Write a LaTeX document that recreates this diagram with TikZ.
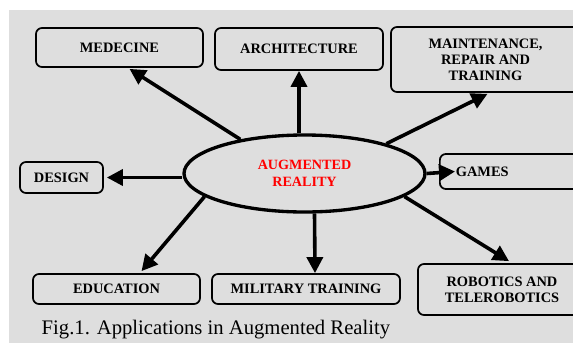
\documentclass[tikz,border=0pt]{standalone}
\usepackage{fontspec}
\setmainfont{Liberation Serif}
\usetikzlibrary{arrows.meta,shapes.geometric}
\definecolor{bggray}{RGB}{222,222,222}
\definecolor{arred}{RGB}{255,0,0}

\begin{document}
\begin{tikzpicture}[x=0.75pt,y=0.75pt,yscale=-1,xscale=1,
  appbox/.style={draw, line width=1.3pt, rounded corners=4.5pt, inner sep=2pt, align=center, font=\fontsize{10.8}{12}\selectfont\bfseries},
  arnode/.style={draw, ellipse, line width=2.5pt, inner sep=0pt, align=center, text=arred, font=\fontsize{10.6}{12.8}\selectfont\bfseries},
  arr/.style={line width=2.7pt, -{Triangle[length=12pt,width=12pt]}}]
\clip (0,0) rectangle (573,343);

%Shape: Rectangle (background)
\fill[bggray] (9,10) rectangle (573,343);

%Shape: Ellipse
\node[arnode, minimum width=180.75pt, minimum height=57.75pt] (ar) at (304.5,173.5) {AUGMENTED\\REALITY};

%Shape: Rounded Rect
\node[appbox, minimum width=125.25pt, minimum height=29.25pt] (med) at (119.5,47.5) {MEDECINE};
%Shape: Rounded Rect
\node[appbox, minimum width=126pt, minimum height=31.5pt] (arch) at (299,49) {ARCHITECTURE};
%Shape: Rounded Rect
\node[appbox, minimum width=141.75pt, minimum height=48.75pt] (maint) at (485.5,59.5) {MAINTENANCE,\\REPAIR AND\\TRAINING};
%Shape: Rounded Rect
\node[appbox, anchor=west, minimum height=26.25pt, align=left, text width=88.5pt, inner xsep=12pt] (games) at (439,171.5) {GAMES};
%Shape: Rounded Rect
\node[appbox, minimum width=62.25pt, minimum height=23.25pt] (design) at (61.5,177.5) {DESIGN};
%Shape: Rounded Rect
\node[appbox, minimum width=125.25pt, minimum height=22.5pt] (edu) at (116.5,289) {EDUCATION};
%Shape: Rounded Rect
\node[appbox, minimum width=141pt, minimum height=22.5pt] (mil) at (306,289) {MILITARY TRAINING};
%Shape: Rounded Rect
\node[appbox, minimum width=126pt, minimum height=38.25pt] (rob) at (502,289.5) {ROBOTICS AND\\TELEROBOTICS};

%Straight Lines
\draw[arr] (ar.152) -- ([shift={(10,1)}]med.south);
%Straight Lines
\draw[arr] (ar.north -| arch.south) -- (arch.south);
%Straight Lines
\draw[arr] (ar.20) -- ([shift={(2,1)}]maint.south);
%Straight Lines
\draw[arr] (ar.east) -- ([shift={(16,0)}]games.west);
%Straight Lines
\draw[arr] (ar.west |- design.east) -- ([shift={(3,0)}]design.east);
%Straight Lines
\draw[arr] (ar.193) -- ([shift={(25,-2)}]edu.north);
%Straight Lines
\draw[arr] ([shift={(10,0)}]ar.south) -- ([shift={(9,0)}]mil.north);
%Straight Lines
\draw[arr] (ar.-13) -- ([shift={(7,-2)}]rob.north);

%Caption
\node[anchor=base west, font=\fontsize{15.5}{18}\selectfont] (cap) at (37,334) {Fig.1. Applications in Augmented Reality};
\end{tikzpicture}
\end{document}
